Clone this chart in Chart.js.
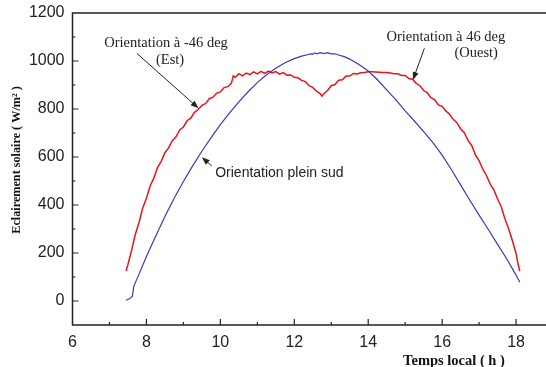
<!DOCTYPE html>
<html lang="fr">
<head>
    <meta charset="UTF-8">
    <title>Eclairement solaire</title>
    <script src="https://cdn.jsdelivr.net/npm/chart.js"></script>
    <style>
        body { margin: 0; background: #fff; }
        #wrap { width: 546px; height: 367px; }
    </style>
</head>
<body>
    <div id="wrap"><canvas id="chart" width="546" height="367"></canvas></div>

    <script>
        // Orientation à -46 / 46 deg (rouge)
        const redHours = [7.45, 7.5, 7.6, 7.7, 7.8, 7.9, 8.0, 8.1, 8.2, 8.3, 8.4, 8.5, 8.6, 8.7, 8.8, 8.9,
            9.0, 9.1, 9.2, 9.3, 9.4, 9.5, 9.6, 9.7, 9.8, 9.9, 10.0, 10.1, 10.2, 10.3, 10.35, 10.4, 10.5,
            10.6, 10.7, 10.8, 10.9, 11.0, 11.1, 11.2, 11.3, 11.4, 11.5, 11.6, 11.7, 11.8, 11.9, 12.0, 12.1,
            12.2, 12.3, 12.4, 12.5, 12.6, 12.7, 12.75, 12.8, 12.9, 13.0, 13.1, 13.2, 13.3, 13.4, 13.5, 13.6,
            13.7, 13.8, 13.9, 14.0, 14.1, 14.2, 14.3, 14.4, 14.5, 14.6, 14.7, 14.8, 14.9, 15.0, 15.1, 15.2,
            15.3, 15.4, 15.5, 15.6, 15.7, 15.8, 15.9, 16.0, 16.1, 16.2, 16.3, 16.4, 16.5, 16.6, 16.7, 16.8,
            16.9, 17.0, 17.1, 17.2, 17.3, 17.4, 17.5, 17.6, 17.7, 17.8, 17.9, 18.0, 18.05, 18.1];
        const redValues = [125, 152, 212, 278, 327, 388, 428, 479, 512, 556, 582, 618, 638, 668, 684, 713,
            725, 751, 762, 786, 798, 815, 822, 843, 849, 866, 871, 889, 893, 908, 938, 932, 947,
            938, 950, 943, 955, 946, 957, 948, 958, 950, 956, 945, 952, 941, 942, 932, 930,
            919, 914, 897, 890, 874, 864, 853, 864, 877, 897, 902, 920, 922, 937, 937, 948,
            946, 951, 952, 955, 955, 954, 953, 952, 952, 950, 947, 947, 940, 940, 927, 924,
            907, 897, 877, 867, 847, 838, 817, 811, 792, 778, 757, 743, 717, 701, 669, 648,
            609, 585, 549, 523, 487, 463, 425, 393, 342, 301, 252, 198, 157, 125];

        // Orientation plein sud (bleu)
        const blueHours = [7.45, 7.55, 7.62, 7.66, 7.8, 8.0, 8.25, 8.5, 8.75, 9.0, 9.25, 9.5, 9.75, 10.0,
            10.25, 10.5, 10.75, 11.0, 11.25, 11.5, 11.75, 12.0, 12.2, 12.35, 12.45, 12.5, 12.55, 12.6, 12.7,
            12.8, 12.9, 13.0, 13.1, 13.2, 13.35, 13.5, 13.75, 14.0, 14.25, 14.5, 14.75, 15.0, 15.25, 15.5,
            15.75, 16.0, 16.25, 16.5, 16.75, 17.0, 17.25, 17.5, 17.75, 18.0, 18.1];
        const blueValues = [3, 10, 20, 62, 112, 185, 270, 352, 428, 498, 563, 624, 681, 735,
            784, 830, 872, 910, 943, 970, 993, 1010, 1020, 1026, 1030, 1028, 1034, 1030, 1035,
            1031, 1035, 1030, 1030, 1025, 1018, 1008, 985, 958, 922, 880, 838, 792, 750, 706,
            660, 608, 548, 484, 420, 358, 298, 236, 175, 108, 78];

        const xTicks = [6, 8, 10, 12, 14, 16, 18];
        const yTicks = [0, 200, 400, 600, 800, 1000, 1200];

        // annotations (positions in data units)
        const notes = [
            { text: 'Orientation à -46 deg', x: 8.53, y: 1074, font: '14.5px "Liberation Serif"', align: 'center' },
            { text: '(Est)', x: 8.64, y: 1004, font: '14.5px "Liberation Serif"', align: 'center' },
            { text: 'Orientation à 46 deg', x: 16.10, y: 1101, font: '14.5px "Liberation Serif"', align: 'center' },
            { text: '(Ouest)', x: 16.92, y: 1032, font: '14.5px "Liberation Serif"', align: 'center' },
            { text: 'Orientation plein sud', x: 9.86, y: 532, font: '14px "Liberation Sans"', align: 'left' }
        ];
        const arrows = [
            { from: [7.74, 1032], to: [9.41, 803] },
            { from: [15.52, 1053], to: [15.21, 921] },
            { from: [9.77, 562], to: [9.50, 599] }
        ];

        function drawArrow(ctx, x1, y1, x2, y2) {
            const a = Math.atan2(y2 - y1, x2 - x1);
            const len = 8, w = 3;
            ctx.beginPath();
            ctx.moveTo(x1, y1);
            ctx.lineTo(x2 - Math.cos(a) * len * 0.8, y2 - Math.sin(a) * len * 0.8);
            ctx.stroke();
            ctx.beginPath();
            ctx.moveTo(x2, y2);
            ctx.lineTo(x2 - Math.cos(a) * len - Math.sin(a) * w, y2 - Math.sin(a) * len + Math.cos(a) * w);
            ctx.lineTo(x2 - Math.cos(a) * len + Math.sin(a) * w, y2 - Math.sin(a) * len - Math.cos(a) * w);
            ctx.closePath();
            ctx.fill();
        }

        const framePlugin = {
            id: 'frame',
            afterDraw(chart) {
                const ctx = chart.ctx;
                const a = chart.chartArea;
                const xs = chart.scales.x, ys = chart.scales.y;
                ctx.save();
                ctx.strokeStyle = '#222';
                ctx.lineWidth = 1.5;
                ctx.beginPath();
                ctx.moveTo(chart.width, a.top);
                ctx.lineTo(a.left, a.top);
                ctx.lineTo(a.left, a.bottom);
                ctx.lineTo(chart.width, a.bottom);
                ctx.stroke();

                // ticks, pointing inward
                ctx.lineWidth = 1.2;
                ctx.beginPath();
                for (let v = 7; v <= 18; v++) {
                    const px = xs.getPixelForValue(v);
                    const l = v % 2 === 0 ? 6 : 3;
                    ctx.moveTo(px, a.bottom);
                    ctx.lineTo(px, a.bottom - l);
                }
                for (let v = 0; v <= 1100; v += 100) {
                    const py = ys.getPixelForValue(v);
                    const l = v % 200 === 0 ? 6 : 3;
                    ctx.moveTo(a.left, py);
                    ctx.lineTo(a.left + l, py);
                }
                ctx.stroke();

                // axis titles
                ctx.fillStyle = '#111';
                ctx.textAlign = 'center';
                ctx.textBaseline = 'middle';
                ctx.font = 'bold 14.5px "Liberation Serif"';
                ctx.fillText('Temps local ( h )', 454, 361);
                ctx.font = 'bold 12.2px "Liberation Serif"';
                ctx.translate(17, 160);
                ctx.rotate(-Math.PI / 2);
                ctx.fillText('Eclairement solaire ( W/m² )', 0, 0);
                ctx.restore();

                // annotations
                ctx.save();
                ctx.fillStyle = '#222';
                ctx.strokeStyle = '#222';
                ctx.lineWidth = 1;
                ctx.textBaseline = 'middle';
                notes.forEach(n => {
                    ctx.font = n.font;
                    ctx.textAlign = n.align;
                    ctx.fillText(n.text, xs.getPixelForValue(n.x), ys.getPixelForValue(n.y));
                });
                arrows.forEach(r => {
                    drawArrow(ctx, xs.getPixelForValue(r.from[0]), ys.getPixelForValue(r.from[1]),
                        xs.getPixelForValue(r.to[0]), ys.getPixelForValue(r.to[1]));
                });
                ctx.restore();
            }
        };

        new Chart(document.getElementById('chart'), {
            type: 'line',
            data: {
                datasets: [{
                    label: 'Orientation plein sud',
                    data: blueHours.map((h, i) => ({ x: h, y: blueValues[i] })),
                    borderColor: '#3a3ab8',
                    borderWidth: 1.2,
                    pointRadius: 0,
                    tension: 0
                }, {
                    label: 'Orientation à ±46 deg',
                    data: redHours.map((h, i) => ({ x: h, y: redValues[i] })),
                    borderColor: '#e8141c',
                    borderWidth: 1.5,
                    pointRadius: 0,
                    tension: 0
                }]
            },
            options: {
                responsive: false,
                animation: false,
                devicePixelRatio: 1,
                layout: { padding: { top: 13, right: 0, left: 0, bottom: 0 } },
                plugins: { legend: { display: false }, tooltip: { enabled: false } },
                scales: {
                    x: {
                        type: 'linear',
                        min: 6,
                        max: 18.81,
                        grid: { display: false },
                        border: { display: false },
                        afterBuildTicks: s => { s.ticks = xTicks.map(v => ({ value: v })); },
                        afterFit: s => { s.height = 42; },
                        ticks: { color: '#222', padding: 0, font: { family: 'Liberation Sans', size: 16 },
                            callback: v => String(v) }
                    },
                    y: {
                        min: -100,
                        max: 1200,
                        grid: { display: false },
                        border: { display: false },
                        afterBuildTicks: s => { s.ticks = yTicks.map(v => ({ value: v })); },
                        afterFit: s => { s.width = 72.5; },
                        ticks: { color: '#222', padding: 0, font: { family: 'Liberation Sans', size: 16 },
                            callback: v => String(v) }
                    }
                }
            },
            plugins: [framePlugin]
        });
    </script>
</body>
</html>
